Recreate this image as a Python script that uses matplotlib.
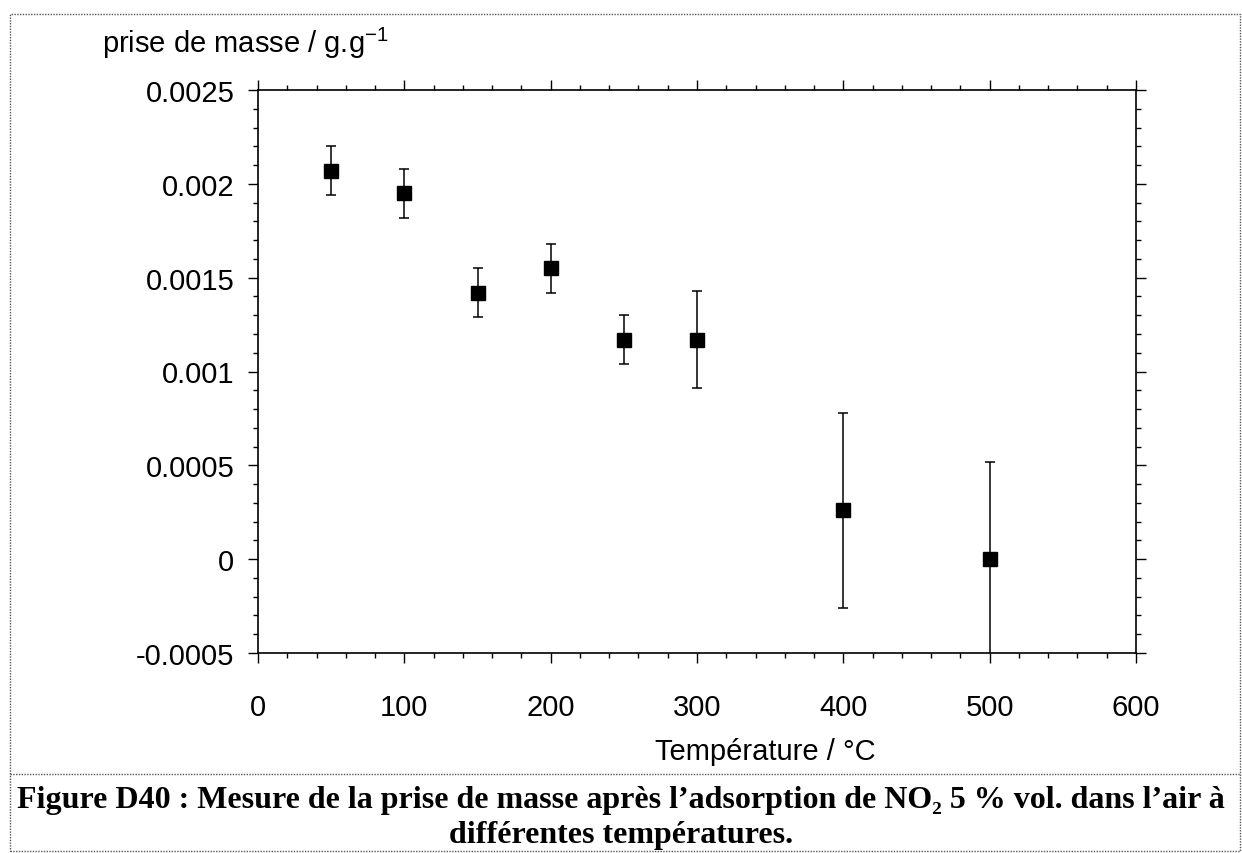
import matplotlib
matplotlib.use("Agg")
import matplotlib.pyplot as plt
from matplotlib.lines import Line2D
from matplotlib.ticker import MultipleLocator, FuncFormatter

plt.rcParams['font.family'] = ['Liberation Sans', 'DejaVu Sans']
plt.rcParams['mathtext.fontset'] = 'custom'
plt.rcParams['mathtext.rm'] = 'Liberation Sans'
plt.rcParams['mathtext.it'] = 'Liberation Sans:italic'

# data
temperature = [50, 100, 150, 200, 250, 300, 400, 500]
mass_gain = [0.00207, 0.00195, 0.00142, 0.00155, 0.00117, 0.00117, 0.00026, 0.0]
mass_err = [0.00013, 0.00013, 0.00013, 0.00013, 0.00013, 0.00026, 0.00052, 0.00052]

x_ticks = [0, 100, 200, 300, 400, 500, 600]
y_ticks = [-0.0005, 0, 0.0005, 0.001, 0.0015, 0.002, 0.0025]

ylabel = r'prise de masse / g.g$^{\mathrm{-1}}$'
xlabel = 'Température / °C'
caption = ("Figure D40 : Mesure de la prise de masse après l’adsorption de NO₂ 5 % vol. dans l’air à\n"
           "différentes températures.")

W, H = 1242, 854
fig = plt.figure(figsize=(W / 100, H / 100), dpi=100)
ax = fig.add_axes([258 / W, 1 - 654 / H, (1136 - 258) / W, (654 - 91) / H])

ax.errorbar(temperature, mass_gain, yerr=mass_err, fmt='s', color='black',
            markersize=10, ecolor='black', elinewidth=1.1, capsize=3.5, capthick=1.1)

ax.set_xlim(0, 600)
ax.set_ylim(-0.0005, 0.0025)
ax.set_xticks(x_ticks)
ax.set_yticks(y_ticks)
ax.xaxis.set_minor_locator(MultipleLocator(20))
ax.yaxis.set_minor_locator(MultipleLocator(0.0001))
ax.yaxis.set_major_formatter(FuncFormatter(lambda v, p: '0' if abs(v) < 1e-12 else ('%g' % v)))

ax.tick_params(which='both', direction='out', top=True, right=True, width=1.0)
ax.tick_params(which='major', length=7, labelsize=21)
ax.tick_params(which='minor', length=3.5)
ax.tick_params(axis='x', which='major', pad=22)
ax.tick_params(axis='y', which='major', pad=10)
for s in ax.spines.values():
    s.set_linewidth(1.2)

fig.text(102 / W, 1 - 53 / H, ylabel, fontsize=21, ha='left', va='baseline')
fig.text(765 / W, 1 - 752 / H, xlabel, fontsize=21, ha='center', va='center')

fig.text(0.5, 1 - 818 / H, caption, fontsize=23, fontweight='bold',
         family=['Liberation Serif', 'DejaVu Serif'], ha='center', va='center',
         linespacing=1.3)

# dotted frame around figure and caption separator
border = dict(color='#555555', linestyle=(0, (1, 1)), linewidth=1.0, transform=fig.transFigure)
fx0, fx1 = 10 / W, 1240 / W
fy0, fy1 = 1 - 852 / H, 1 - 15 / H
fig.add_artist(Line2D([fx0, fx1, fx1, fx0, fx0], [fy0, fy0, fy1, fy1, fy0], **border))
fig.add_artist(Line2D([fx0, fx1], [1 - 775 / H, 1 - 775 / H], **border))

fig.savefig('out.png', dpi=100)
